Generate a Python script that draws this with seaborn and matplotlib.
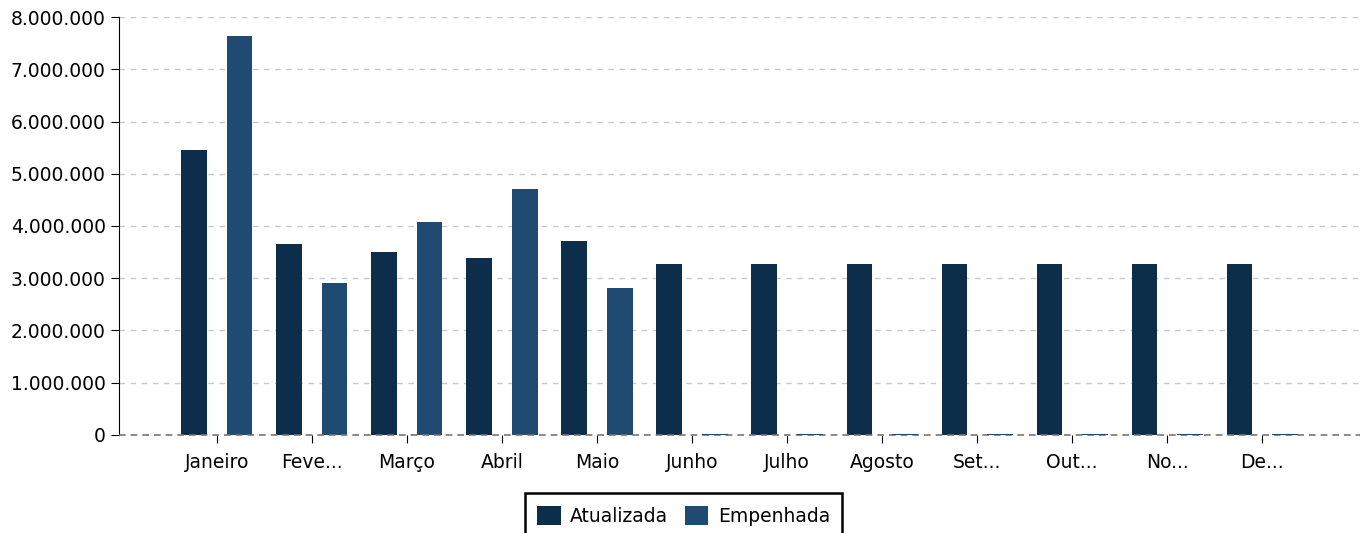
import matplotlib
matplotlib.use("Agg")
import matplotlib.pyplot as plt
import pandas as pd
import seaborn as sns
from matplotlib.ticker import FuncFormatter, MultipleLocator

# data
months = ["Janeiro", "Feve...", "Março", "Abril", "Maio", "Junho",
          "Julho", "Agosto", "Set...", "Out...", "No...", "De..."]
atualizada = [5455000, 3655000, 3502000, 3388000, 3713000, 3273000,
              3273000, 3273000, 3273000, 3273000, 3273000, 3273000]
empenhada = [7636000, 2909000, 4077000, 4708000, 2813000, 0,
             0, 0, 0, 0, 0, 0]
series = ["Atualizada", "Empenhada"]
colors = ["#0c2e4b", "#1f4b72"]

df = pd.DataFrame({
    "mes": months * 2,
    "valor": atualizada + empenhada,
    "serie": [series[0]] * len(months) + [series[1]] * len(months),
})

sns.set_style("white")
plt.rcParams["font.family"] = ["DejaVu Sans"]

fig = plt.figure(figsize=(13.67, 5.33), dpi=100)
ax = fig.add_axes([0.087, 0.184, 0.908, 0.784])

sns.barplot(
    data=df, x="mes", y="valor", hue="serie",
    palette=colors, width=0.96, gap=0.44, saturation=1,
    linewidth=0, ax=ax, legend=True,
)
# zero-height bars still show as a thin line in the reference
for bar, c in zip(ax.patches, [colors[0]] * 12 + [colors[1]] * 12):
    if bar.get_height() == 0:
        bar.set_edgecolor(c)
        bar.set_linewidth(1.5)
        bar.set_zorder(4)

ax.set_xlim(-1.03, 12.03)
ax.set_ylim(0, 8000000)
ax.yaxis.set_major_locator(MultipleLocator(1000000))
ax.yaxis.set_major_formatter(
    FuncFormatter(lambda v, _: f"{int(v):,}".replace(",", "."))
)
ax.grid(axis="y", color="#c8c8c8", linestyle=(0, (4, 4)), linewidth=1)
ax.set_axisbelow(True)
ax.axhline(0, color="#777777", linestyle=(0, (4, 3)), linewidth=1.2,
           zorder=3, clip_on=False)

for side in ["top", "right", "bottom"]:
    ax.spines[side].set_visible(False)
ax.spines["left"].set_color("#000000")
ax.tick_params(axis="both", labelsize=13.5, colors="#000000",
               length=6, direction="out", left=True, bottom=True)
ax.tick_params(axis="x", pad=7)
ax.set_xlabel("")
ax.set_ylabel("")

handles, labels = ax.get_legend_handles_labels()
ax.legend_.remove()
leg = fig.legend(
    handles, labels, loc="upper center", bbox_to_anchor=(0.5, 0.092),
    ncol=2, fontsize=13.5, frameon=True, fancybox=False, framealpha=1,
    handlelength=1.25, handleheight=1.25, handletextpad=0.5,
    columnspacing=0.9, borderpad=0.65, labelcolor="#000000",
)
leg.get_frame().set_edgecolor("#000000")
leg.get_frame().set_linewidth(1.8)

fig.savefig("out.png", dpi=100)
